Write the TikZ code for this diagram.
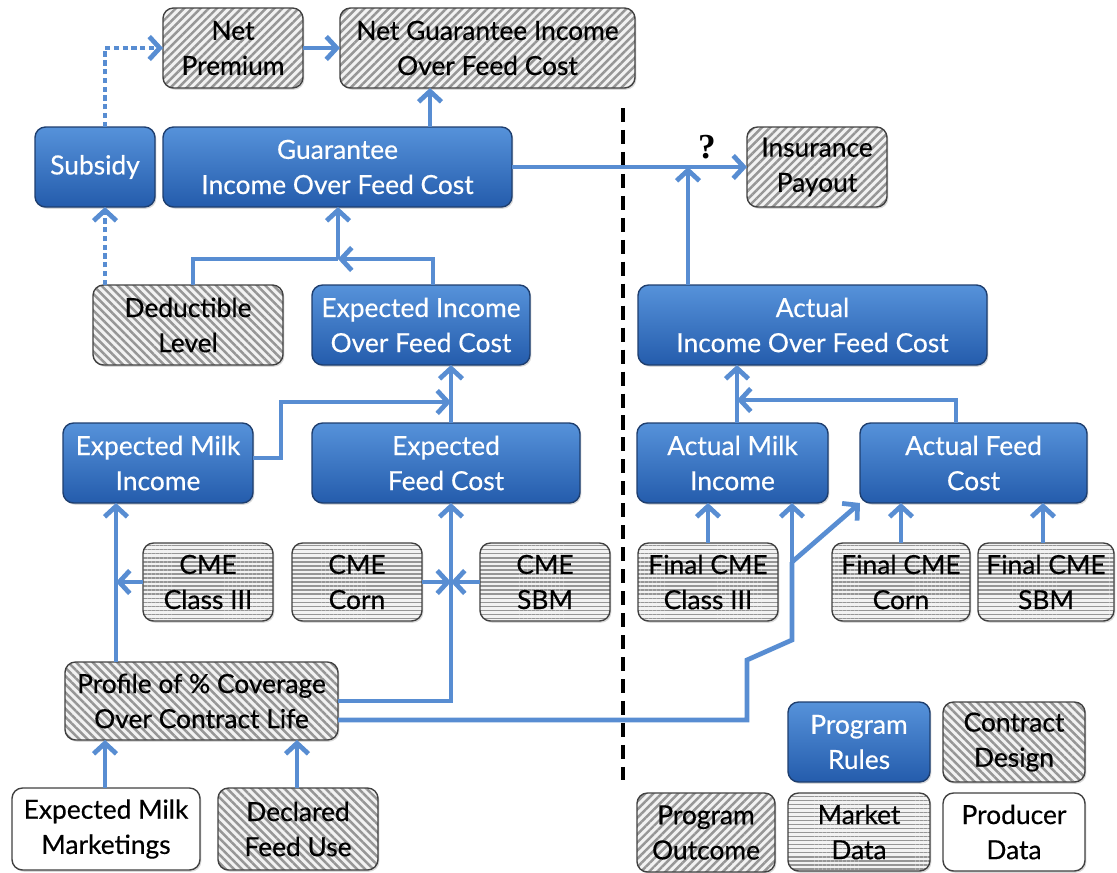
\documentclass[tikz,border=0pt]{standalone}
\usepackage{fontspec}
\setmainfont{Lato}[FakeBold=0.4]
\newfontfamily\qfont{Liberation Serif}
\usetikzlibrary{arrows.meta,patterns.meta,shadows}
\definecolor{connc}{RGB}{88,141,210}
\definecolor{bluetop}{RGB}{86,146,218}
\definecolor{bluebot}{RGB}{36,92,172}
\definecolor{blueedge}{RGB}{30,62,110}
\definecolor{stripe}{RGB}{150,150,150}
\definecolor{stripebg}{RGB}{242,242,242}
\tikzset{
  wh/.style 2 args={minimum width=#1*0.02cm, minimum height=#2*0.02cm},
  box/.style={rounded corners=6pt, draw=black!75, line width=0.8pt, inner sep=0pt, outer sep=0pt,
    align=center, font=\fontsize{15}{20}\selectfont,
    drop shadow={opacity=0.3, shadow xshift=0.8pt, shadow yshift=-1pt}},
  bluebox/.style={box, draw=blueedge, top color=bluetop, bottom color=bluebot, text=white},
  outbox/.style={box, preaction={fill=stripebg}, pattern={Lines[angle=45,distance=3.3pt,line width=1.4pt]}, pattern color=stripe},
  designbox/.style={box, preaction={fill=stripebg}, pattern={Lines[angle=-45,distance=3.3pt,line width=1.4pt]}, pattern color=stripe},
  marketbox/.style={box, preaction={fill=stripebg}, pattern={Lines[angle=0,distance=2.3pt,line width=0.8pt]}, pattern color=stripe},
  prodbox/.style={box, fill=white},
  wire/.style={draw=connc, line width=2.7pt},
  conn/.style={wire, -{Straight Barb[length=6pt,width=13pt]}},
  dotconn/.style={conn, dash pattern=on 3pt off 2pt},
}
\begin{document}
\begin{tikzpicture}[x=0.02cm, y=-0.02cm]
\useasboundingbox (0,0) rectangle (1117,873);

% nodes
\node[outbox, wh={140}{80}] (netprem) at (233,48) {Net\\Premium};
\node[outbox, wh={295}{80}] (netgio) at (487.5,48) {Net Guarantee Income\\Over Feed Cost};
\node[bluebox, wh={120}{80}] (subsidy) at (95,167) {Subsidy};
\node[bluebox, wh={349}{80}] (gioc) at (337.5,167) {Guarantee\\Income Over Feed Cost};
\node[outbox, wh={140}{80}] (payout) at (817,167) {Insurance\\Payout};
\node[designbox, wh={190}{80}] (deduct) at (188,325) {Deductible\\Level};
\node[bluebox, wh={218}{80}] (expioc) at (421,325) {Expected Income\\Over Feed Cost};
\node[bluebox, wh={349}{80}] (actioc) at (812.5,325) {Actual\\Income Over Feed Cost};
\node[bluebox, wh={190}{80}] (expmilk) at (158,463) {Expected Milk\\Income};
\node[bluebox, wh={268}{80}] (expfeed) at (446,463) {Expected\\Feed Cost};
\node[bluebox, wh={191}{80}] (actmilk) at (732.5,463) {Actual Milk\\Income};
\node[bluebox, wh={227}{80}] (actfeed) at (973.5,463) {Actual Feed\\Cost};
\node[marketbox, wh={130}{78}] (cme3) at (208,582) {CME\\Class III};
\node[marketbox, wh={130}{78}] (cmecorn) at (357,582) {CME\\Corn};
\node[marketbox, wh={130}{78}] (cmesbm) at (545,582) {CME\\SBM};
\node[marketbox, wh={140}{78}] (fcme3) at (708,582) {Final CME\\Class III};
\node[marketbox, wh={138}{78}] (fcmecorn) at (901,582) {Final CME\\Corn};
\node[marketbox, wh={136}{78}] (fcmesbm) at (1046,582) {Final CME\\SBM};
\node[designbox, wh={273}{78}] (profile) at (201.5,701) {Profile of \% Coverage\\Over Contract Life};
\node[prodbox, wh={188}{82}] (emm) at (106,829) {Expected Milk\\Marketings};
\node[designbox, wh={160}{82}] (dfu) at (298,829) {Declared\\Feed Use};
% legend
\node[bluebox, wh={142}{80}] (rules) at (859,742) {Program\\Rules};
\node[designbox, wh={142}{80}] (design) at (1014,742) {Contract\\Design};
\node[outbox, wh={138}{79}] (outcome) at (706,832.5) {Program\\Outcome};
\node[marketbox, wh={142}{78}] (market) at (859,832) {Market\\Data};
\node[prodbox, wh={142}{78}] (producer) at (1014,832) {Producer\\Data};

% divider
\draw[black, line width=2.8pt, dash pattern=on 8pt off 4.5pt] (623,108) -- (623,780);
\node[font=\qfont\bfseries\fontsize{20}{20}\selectfont] (q) at (707,147) {?};

% connectors
\coordinate (j1) at (338,259);
\coordinate (j2) at (451,402);
\coordinate (j3) at (792,562);
\coordinate (j4) at (737,400);
\coordinate (j5) at (688,167);
\coordinate (k1) at (281,458);
\coordinate (k2) at (747,660);
\coordinate (k3) at (792,640);

\draw[dotconn] (105,0 |- subsidy.north) |- (netprem.west);
\draw[conn] (netprem.east) -- (netprem.east -| netgio.west);
\draw[conn] (430,0 |- gioc.north) -- (430,0 |- netgio.south);
\draw[dotconn] (105,0 |- deduct.north) -- (105,0 |- subsidy.south);
\draw[wire] (193,0 |- deduct.north) |- (j1);
\draw[conn] (j1) -- (338,0 |- gioc.south);
\draw[conn] (433,0 |- expioc.north) |- (j1);
\draw[conn] (expmilk.east |- k1) -- (k1) |- (j2);
\draw[conn] (451,0 |- expfeed.north) -- (451,0 |- expioc.south);
\draw[conn] (116,0 |- profile.north) -- (116,0 |- expmilk.south);
\draw[conn] (cme3.west) -- (116,0 |- cme3.west);
\draw[conn] (cmecorn.east) -- (451,0 |- cmecorn.east);
\draw[conn] (cmesbm.west) -- (451,0 |- cmesbm.west);
\draw[conn] (profile.east |- 0,701) -| (451,0 |- expfeed.south);
\draw[wire] (profile.east |- 0,720) -| (k2) -- (k3) -- (j3);
\draw[conn] (j3) -- (792,0 |- actmilk.south);
\draw[conn] (j3) -- (actfeed.south west);
\draw[conn] (708,0 |- fcme3.north) -- (708,0 |- actmilk.south);
\draw[conn] (901,0 |- fcmecorn.north) -- (901,0 |- actfeed.south);
\draw[conn] (1043,0 |- fcmesbm.north) -- (1043,0 |- actfeed.south);
\draw[conn] (737,0 |- actmilk.north) -- (737,0 |- actioc.south);
\draw[conn] (956,0 |- actfeed.north) |- (j4);
\draw[conn] (gioc.east) -- (payout.west);
\draw[conn] (688,0 |- actioc.north) -- (j5);
\draw[conn] (105,0 |- emm.north) -- (105,0 |- profile.south);
\draw[conn] (297,0 |- dfu.north) -- (297,0 |- profile.south);
\end{tikzpicture}
\end{document}
